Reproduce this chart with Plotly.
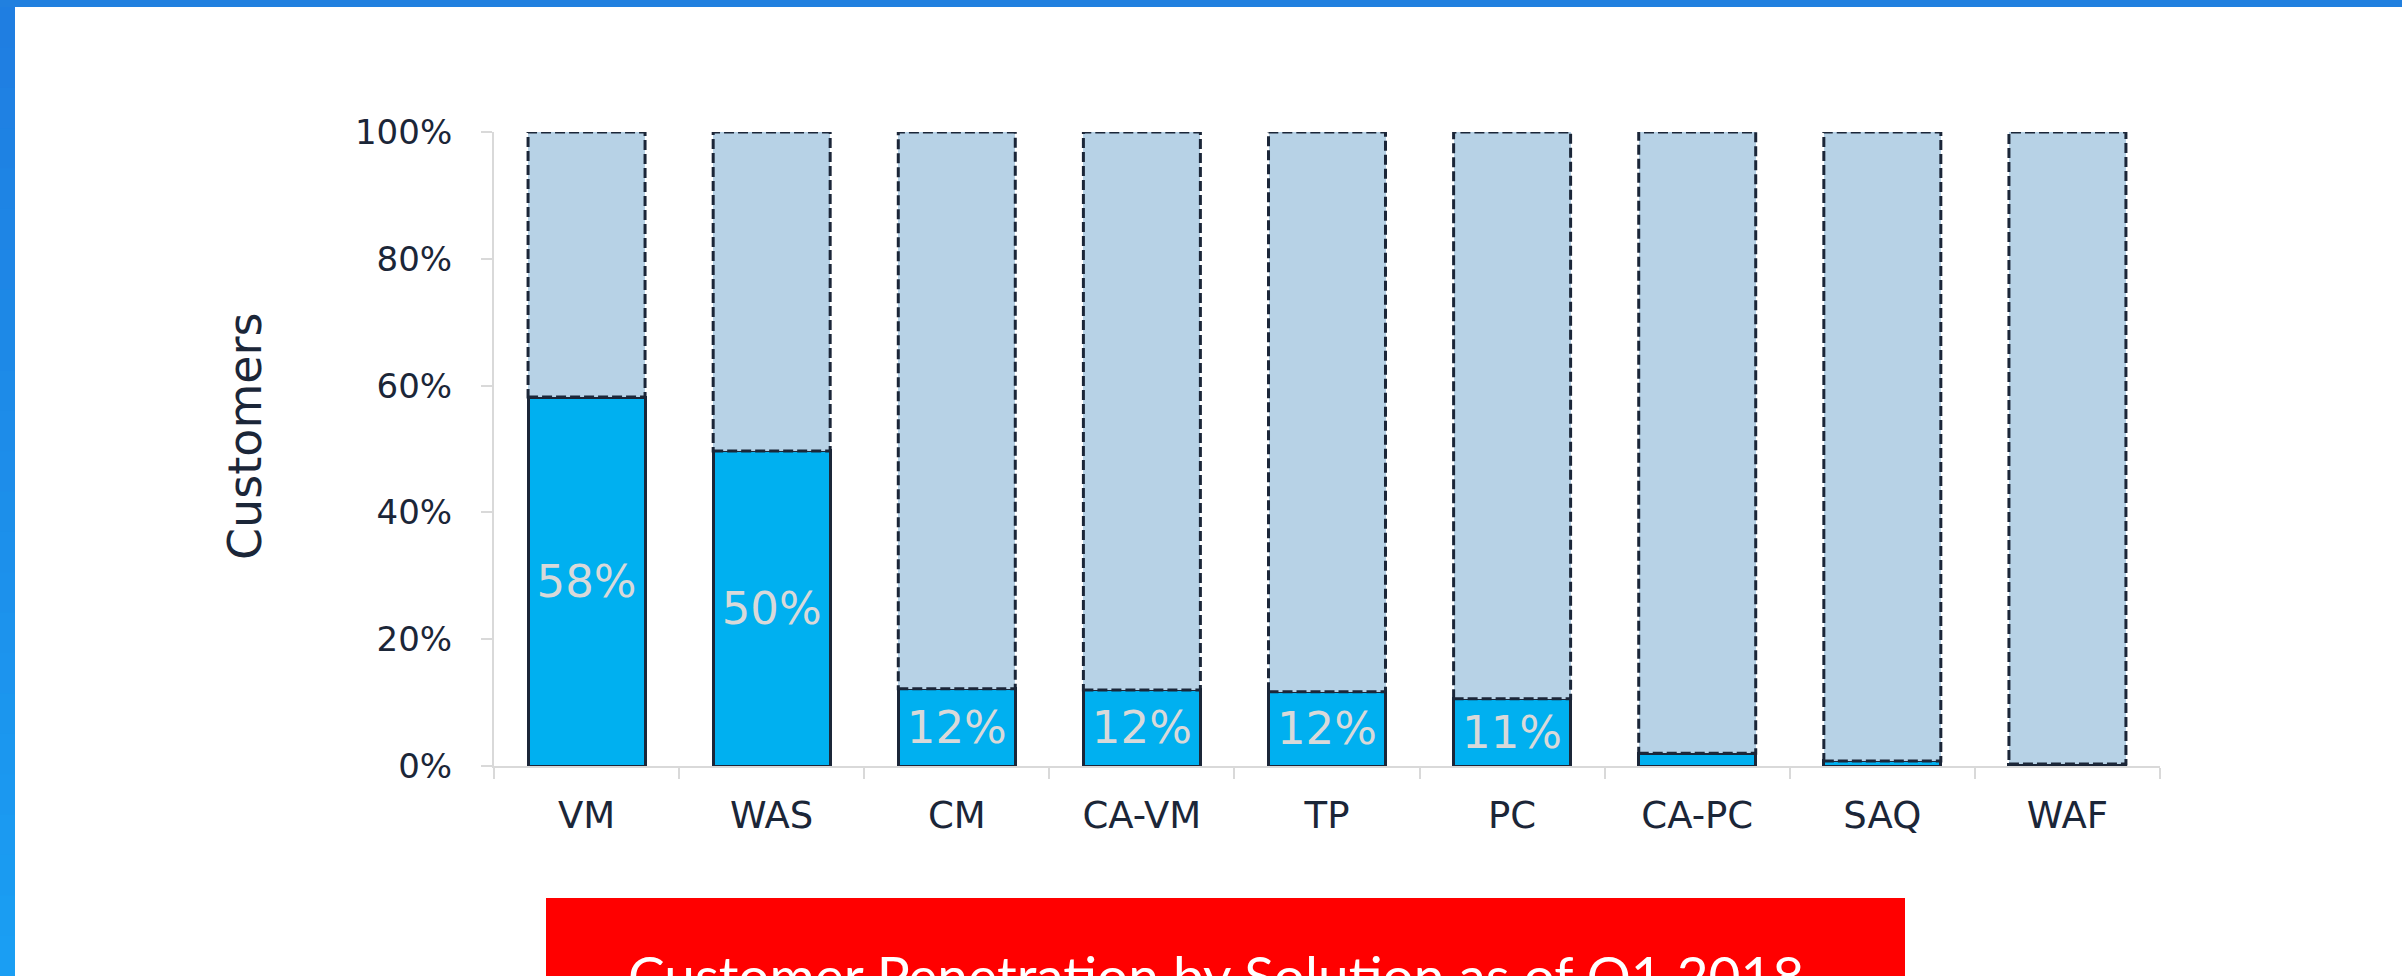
import plotly.graph_objects as go

categories = ["VM", "WAS", "CM", "CA-VM", "TP", "PC", "CA-PC", "SAQ", "WAF"]
penetration = [58.2, 49.7, 12.2, 12.0, 11.7, 10.6, 2.0, 0.8, 0.3]
value_labels = ["58%", "50%", "12%", "12%", "12%", "11%", "", "", ""]
remaining = [100 - p for p in penetration]
y_ticks = [0, 20, 40, 60, 80, 100]
y_ticklabels = ["0%", "20%", "40%", "60%", "80%", "100%"]

DARK = "#1B2638"
BLUE = "#00B0F0"
LIGHT = "#B7D2E6"
GREY = "#D9D9D9"
FONT = "DejaVu Sans"
CAPTION_FONT = "Lato"

W, H = 2402, 976
L, R, T, B = 494, 2160, 132, 766
BAR_HALF = 0.316


def px2x(px):
    return (px - L) / (R - L)


def py2y(py):
    return (B - py) / (B - T)


fig = go.Figure()
fig.add_trace(go.Bar(
    x=categories, y=penetration, name="Penetration",
    marker=dict(color=BLUE, line=dict(color=DARK, width=3)),
    text=value_labels, textposition="inside", insidetextanchor="middle",
    constraintext="none",
    textfont=dict(family=FONT, size=45, color=GREY),
    hoverinfo="skip",
))
fig.add_trace(go.Bar(
    x=categories, y=remaining, name="Remaining",
    marker=dict(color=LIGHT, line=dict(width=0)),
    hoverinfo="skip",
))

shapes = []
# dashed outlines of the remaining part
for cat, p in zip(categories, penetration):
    shapes.append(dict(
        type="rect", xref="x", yref="y", x0=cat, x1=cat,
        x0shift=-BAR_HALF, x1shift=BAR_HALF, y0=p, y1=100,
        line=dict(color=DARK, width=3, dash="10px,4px"),
        fillcolor="rgba(0,0,0,0)", layer="above",
    ))

# page decoration: blue frame (top + left gradient)
shapes.append(dict(type="rect", xref="paper", yref="paper",
                   x0=px2x(0), x1=px2x(W), y0=py2y(0), y1=py2y(7),
                   fillcolor="#2180DF", line=dict(width=0), layer="above"))
top_rgb = (0x1F, 0x7E, 0xE1)
bot_rgb = (0x1A, 0x9E, 0xF3)
n = 24
for i in range(n):
    t = i / (n - 1)
    c = tuple(round(a + (b - a) * t) for a, b in zip(top_rgb, bot_rgb))
    y0p = 7 + (H - 7) * i / n
    y1p = 7 + (H - 7) * (i + 1) / n
    shapes.append(dict(type="rect", xref="paper", yref="paper",
                       x0=px2x(0), x1=px2x(15), y0=py2y(y0p), y1=py2y(y1p + 1),
                       fillcolor="rgb(%d,%d,%d)" % c, line=dict(width=0), layer="above"))
# red caption box
shapes.append(dict(type="rect", xref="paper", yref="paper",
                   x0=px2x(546), x1=px2x(1905), y0=py2y(898), y1=py2y(H + 20),
                   fillcolor="#FF0000", line=dict(width=0), layer="above"))

annotations = [
    dict(text="Customers", xref="paper", yref="paper", x=px2x(245), y=py2y(437),
         textangle=-90, showarrow=False, xanchor="center", yanchor="middle",
         font=dict(family=FONT, size=46, color=DARK)),
    dict(text="Customer Penetration by Solution as of Q1 2018", xref="paper", yref="paper",
         x=px2x(1216), y=py2y(941), showarrow=False, xanchor="center", yanchor="top",
         borderpad=0, font=dict(family=CAPTION_FONT, size=55, color="#FFFFFF")),
]

fig.update_layout(
    width=W, height=H, barmode="stack", bargap=1 - 2 * BAR_HALF,
    margin=dict(l=L, r=W - R, t=T, b=H - B, pad=0),
    paper_bgcolor="white", plot_bgcolor="white",
    showlegend=False, shapes=shapes, annotations=annotations,
    font=dict(family=FONT, color=DARK),
)
fig.update_xaxes(
    type="category", showline=True, linecolor=GREY, linewidth=2,
    ticks="outside", tickson="boundaries", ticklen=11, tickcolor=GREY, tickwidth=2,
    tickfont=dict(family=FONT, size=37, color=DARK), ticklabelstandoff=16,
    showgrid=False, zeroline=False,
)
fig.update_yaxes(
    range=[0, 100], tickvals=y_ticks, ticktext=y_ticklabels,
    showline=True, linecolor=GREY, linewidth=2,
    ticks="outside", ticklen=11, tickcolor=GREY, tickwidth=2,
    tickfont=dict(family=FONT, size=34, color=DARK), ticklabelstandoff=22,
    showgrid=False, zeroline=False,
)

fig.write_html("out.html", config={"displayModeBar": False},
               post_script="document.body.style.margin='0';")
